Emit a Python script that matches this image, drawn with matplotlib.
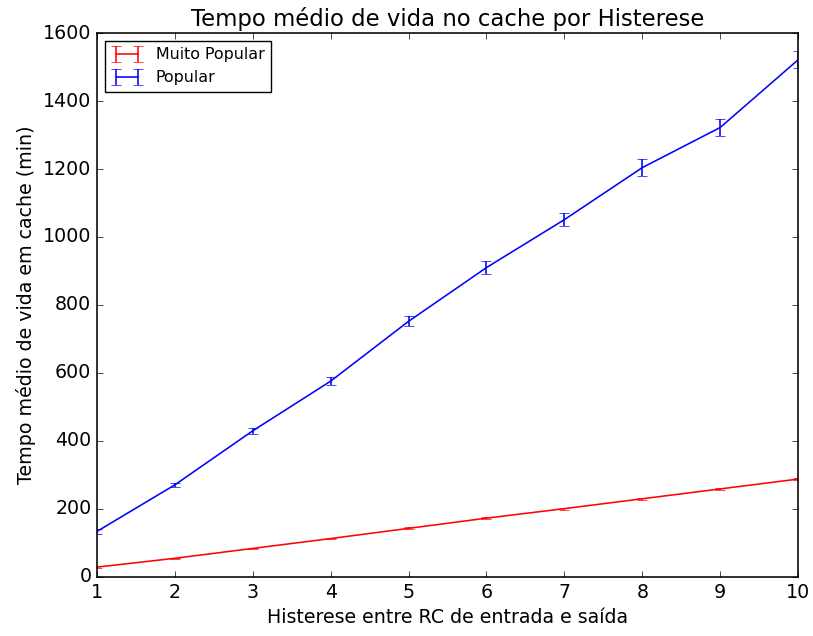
import matplotlib
matplotlib.use("Agg")
import matplotlib.pyplot as plt

plt.style.use("classic")
# reference looks rendered a bit bigger than default classic
scale = 1.14
plt.rcParams["font.size"] = 12 * scale
plt.rcParams["lines.linewidth"] = 1.0 * scale
plt.rcParams["axes.linewidth"] = 1.0 * scale
plt.rcParams["xtick.major.size"] = 4 * scale
plt.rcParams["ytick.major.size"] = 4 * scale

# Histerese values
histerese = [1, 2, 3, 4, 5, 6, 7, 8, 9, 10]

muito_popular = [29, 55, 84, 113, 143, 173, 201, 230, 259, 288]
muito_popular_err = [2, 2, 2, 2, 3, 3, 3, 3, 4, 4]

popular = [134, 271, 430, 576, 752, 910, 1051, 1204, 1322, 1521]
popular_err = [8, 6, 8, 12, 15, 18, 20, 25, 25, 25]

fig = plt.figure(figsize=(8.13, 6.36), dpi=100)
ax = fig.add_subplot(111)
fig.subplots_adjust(left=0.1193, right=0.9816, top=0.9481, bottom=0.0928)

ax.errorbar(histerese, muito_popular, yerr=muito_popular_err, color="r",
            capsize=3 * scale, label="Muito Popular")
ax.errorbar(histerese, popular, yerr=popular_err, color="b",
            capsize=3 * scale, label="Popular")

ax.set_xlim(1, 10)
ax.set_ylim(0, 1600)
ax.set_xticks(histerese)
ax.set_title("Tempo médio de vida no cache por Histerese")
ax.set_xlabel("Histerese entre RC de entrada e saída")
ax.set_ylabel("Tempo médio de vida em cache (min)")
ax.legend(loc="upper left", fontsize=10 * scale)

fig.savefig("out.png", dpi=100)
